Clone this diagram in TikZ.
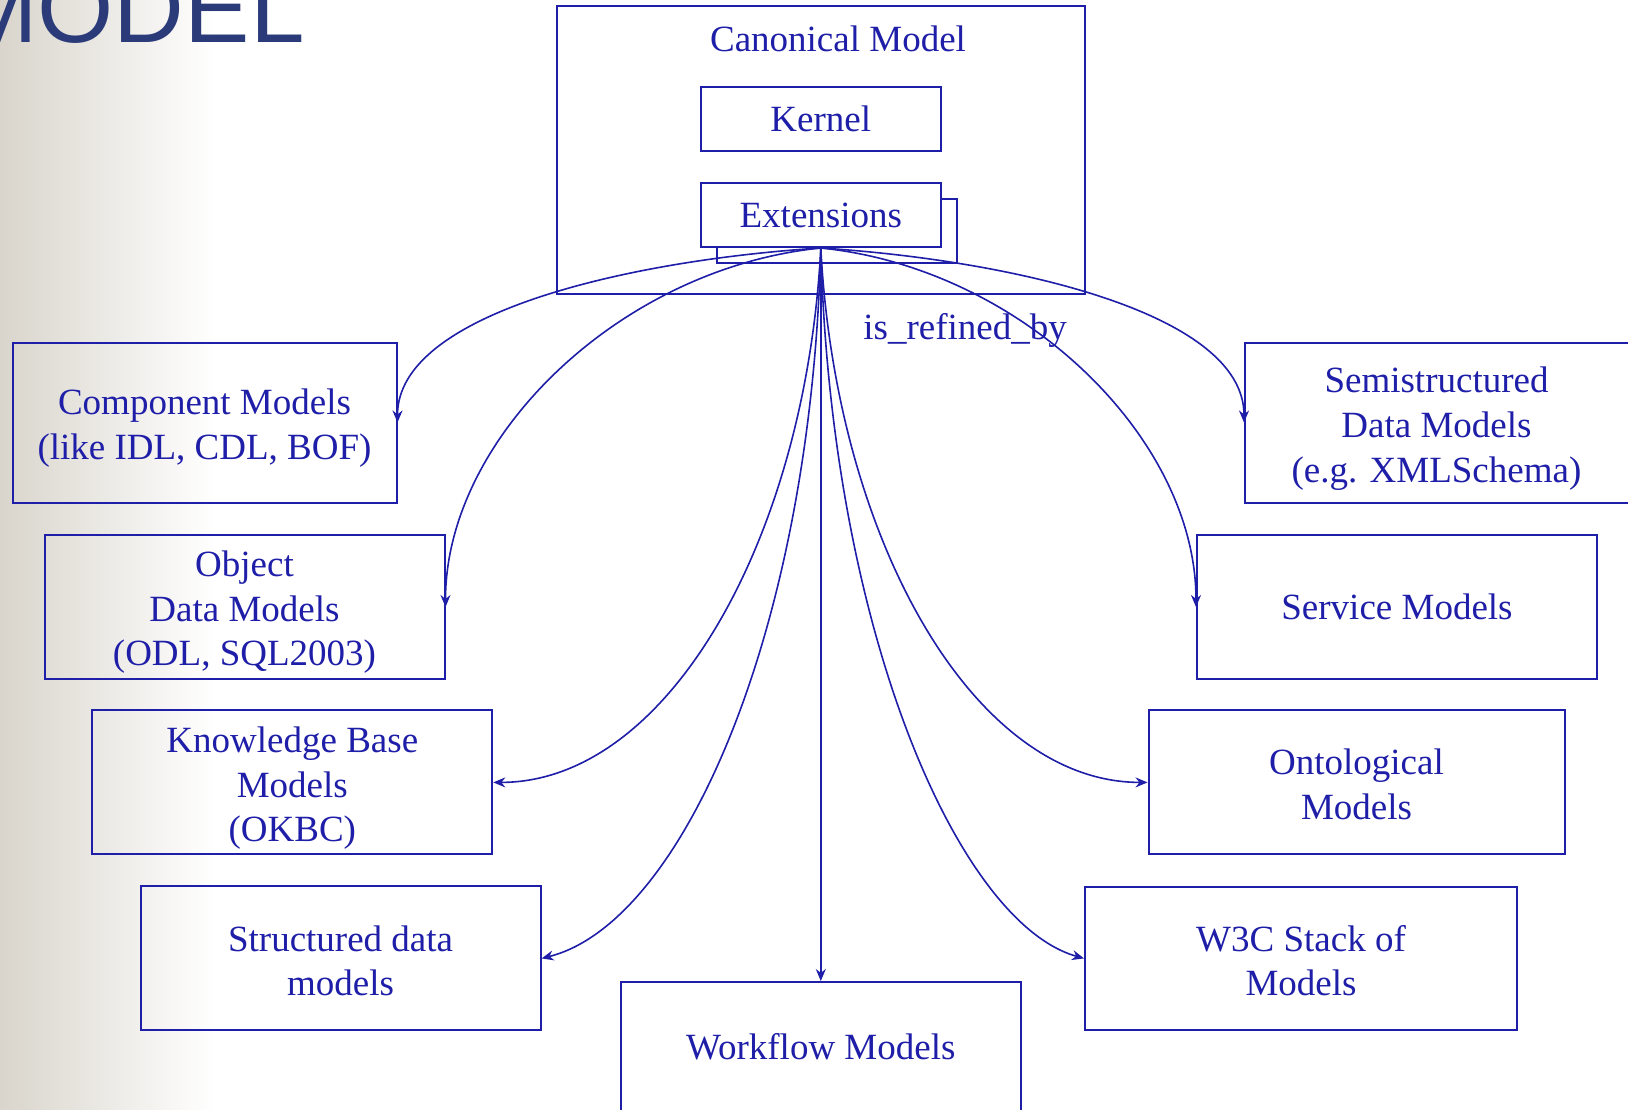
\documentclass[tikz,border=0pt]{standalone}
\usepackage{fontspec}
\setmainfont{Liberation Serif}
\newfontfamily\titlefont{Liberation Sans}
\usepackage{tikz}
\usetikzlibrary{arrows.meta}
\definecolor{mblue}{RGB}{30,30,168}
\definecolor{ttlblue}{RGB}{43,59,122}
\definecolor{bggray}{RGB}{217,213,204}
\newcommand{\mdlfont}{\fontsize{18.5}{22.3}\selectfont}
\newcommand{\lift}[1]{\rule{0pt}{#1}}
\tikzset{
  mdl/.style    ={draw=mblue, line width=1pt, text=mblue, align=center,
                  inner sep=0pt, font=\mdlfont},
  mtxt/.style   ={text=mblue, align=center, inner sep=0pt, font=\mdlfont},
  refarr/.style ={-{Stealth[length=6pt,width=5pt]}, line width=0.8pt,
                  draw=mblue},
}

\begin{document}
\begin{tikzpicture}[x=0.5pt, y=0.5pt]
\useasboundingbox (0,0) rectangle (1628,-1109);
\shade[left color=bggray, right color=white] (0,0) rectangle (215,-1109);
\node[text=ttlblue, font=\titlefont\fontsize{49}{56}\selectfont,
  anchor=base east, inner sep=0pt] (ttl) at (305,-42) {MODEL};

% canonical model
\node[mdl, minimum width=264.25pt, minimum height=143.9pt] (canon)
  at (820.75,-150.1) {};
\node[mtxt] (canonl) at (838,-38.4) {Canonical Model};
\node[mdl, minimum width=120pt, minimum height=31.7pt] (kern)
  at (820.8,-119) {Kernel};
\node[mdl, minimum width=120pt, minimum height=32pt] (extb)
  at (836.8,-231) {};
\node[mdl, fill=white, minimum width=120pt, minimum height=32pt] (ext)
  at (820.8,-215) {Extensions};
\node[mtxt, anchor=base west] (refl) at (863,-339) {is\_refined\_by};

% left side
\node[mdl, minimum width=192pt, minimum height=80pt] (comp)
  at (204.5,-422.5) {\lift{18.5pt}Component Models\\(like IDL, CDL, BOF)};
\node[mdl, minimum width=200pt, minimum height=72pt] (obj)
  at (244.5,-607) {\lift{18pt}Object\\Data Models\\(ODL, SQL2003)};
\node[mdl, minimum width=200pt, minimum height=72pt] (kb)
  at (292.3,-782.4) {\lift{18.8pt}Knowledge Base\\Models\\(OKBC)};
\node[mdl, minimum width=200pt, minimum height=72pt] (struc)
  at (340.6,-958.4) {\lift{15.4pt}Structured data\\models};

% bottom
\node[mdl, minimum width=200pt, minimum height=65pt] (work)
  at (820.8,-1047) {Workflow Models};

% right side
\node[mdl, minimum width=205pt, minimum height=80pt] (semi)
  at (1450,-422.5) {};
\node[mtxt] (semil) at (1436.5,-428.7)
  {Semistructured\\Data Models\\(e.g. XMLSchema)};
\node[mdl, minimum width=200pt, minimum height=72pt] (serv)
  at (1397,-607) {Service Models};
\node[mdl, minimum width=208pt, minimum height=72pt] (onto)
  at (1356.5,-782.4) {\lift{14.8pt}Ontological\\Models};
\node[mdl, minimum width=216pt, minimum height=71.5pt] (w3c)
  at (1301,-958.4) {\lift{15.4pt}W3C Stack of\\Models};

% refinements
\draw[refarr] (ext.south) .. controls +(-190,-12) and +(0,110) .. (comp.east);
\draw[refarr] (ext.south) .. controls +(-200,-20) and +(0,170) .. (obj.east);
\draw[refarr] (ext.south) .. controls +(-15,-290) and +(175,0) .. (kb.east);
\draw[refarr] (ext.south) .. controls +(-10,-385) and +(140,35) .. (struc.east);
\draw[refarr] (ext.south) -- (work.north);
\draw[refarr] (ext.south) .. controls +(190,-12) and +(0,110) .. (semi.west);
\draw[refarr] (ext.south) .. controls +(200,-20) and +(0,170) .. (serv.west);
\draw[refarr] (ext.south) .. controls +(15,-290) and +(-175,0) .. (onto.west);
\draw[refarr] (ext.south) .. controls +(10,-385) and +(-125,35) .. (w3c.west);
\end{tikzpicture}
\end{document}
